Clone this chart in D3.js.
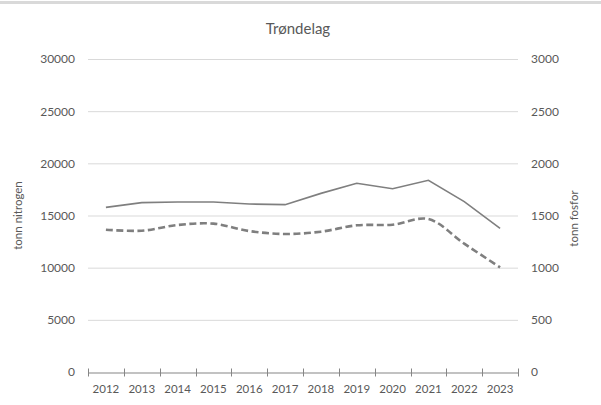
<!DOCTYPE html>
<html><head><meta charset="utf-8">
<script src="https://cdn.jsdelivr.net/npm/d3@7"></script>
<style>body{margin:0;background:#fff;} text{font-family:Lato, "Open Sans", sans-serif;}</style>
</head><body>
<svg id="c" width="601" height="405"></svg>
<script>
const years = ["2012","2013","2014","2015","2016","2017","2018","2019","2020","2021","2022","2023"];
const nitrogen = [15780, 16230, 16290, 16290, 16100, 16040, 17120, 18090, 17570, 18370, 16330, 13770];
const fosfor = [1364, 1354, 1409, 1422, 1351, 1323, 1345, 1406, 1412, 1466, 1230, 1003];
const leftTicks = [0, 5000, 10000, 15000, 20000, 25000, 30000];
const rightTicks = [0, 500, 1000, 1500, 2000, 2500, 3000];
const title = "Trøndelag";
const leftTitle = "tonn nitrogen";
const rightTitle = "tonn fosfor";

const svg = d3.select("#c");
const L = 88, R = 518, T = 59, B = 372;
const gray = "#595959";

svg.append("line").attr("x1",0).attr("x2",601).attr("y1",2.5).attr("y2",2.5)
  .attr("stroke","#d9d9d9").attr("stroke-width",3);

const x = d3.scaleBand().domain(years).range([L, R]).padding(0);
const yL = d3.scaleLinear().domain([0, 30000]).range([B, T]);
const yR = d3.scaleLinear().domain([0, 3000]).range([B, T]);

// gridlines
svg.append("g").selectAll("line").data(leftTicks.filter(d=>d>0)).join("line")
  .attr("x1",L).attr("x2",R).attr("y1",d=>yL(d)+0.5).attr("y2",d=>yL(d)+0.5)
  .attr("stroke","#d9d9d9").attr("stroke-width",1);

// left labels
const gl = svg.append("g").attr("transform",`translate(${L},0)`)
  .call(d3.axisLeft(yL).tickValues(leftTicks).tickSize(0).tickPadding(13).tickFormat(d3.format("d")));
gl.select(".domain").remove();
gl.selectAll("text").attr("fill",gray).style("font-size","12px").style("font-family","Lato");

const gr = svg.append("g").attr("transform",`translate(${R},0)`)
  .call(d3.axisRight(yR).tickValues(rightTicks).tickSize(0).tickPadding(13).tickFormat(d3.format("d")));
gr.select(".domain").remove();
gr.selectAll("text").attr("fill",gray).style("font-size","12px").style("font-family","Lato");

// x axis
const gx = svg.append("g").attr("transform",`translate(0,${B+0.5})`)
  .call(d3.axisBottom(x).tickSize(0).tickPadding(12));
gx.select(".domain").attr("stroke","#868686").attr("stroke-width",1.2);
gx.selectAll("text").attr("fill",gray).style("font-size","11.5px").style("font-family","Lato");
const tickPos = years.map(d=>x(d)).concat([R]);
svg.append("g").selectAll("line").data(tickPos).join("line")
  .attr("x1",d=>Math.round(d)+0.5).attr("x2",d=>Math.round(d)+0.5)
  .attr("y1",B-3.5).attr("y2",B+4.5).attr("stroke","#868686").attr("stroke-width",1);

const cx = d => x(d) + x.bandwidth()/2;

svg.append("path").datum(nitrogen)
  .attr("d", d3.line().x((d,i)=>cx(years[i])).y(d=>yL(d)))
  .attr("fill","none").attr("stroke","#7f7f7f").attr("stroke-width",1.6);

svg.append("path").datum(fosfor)
  .attr("d", d3.line().x((d,i)=>cx(years[i])).y(d=>yR(d)).curve(d3.curveCatmullRom.alpha(0.5)))
  .attr("fill","none").attr("stroke","#7f7f7f").attr("stroke-width",2.6)
  .attr("stroke-dasharray","7,3.5");

svg.append("text").attr("x",298).attr("y",34).attr("text-anchor","middle")
  .attr("fill",gray).style("font-size","15px").text(title);

svg.append("text").attr("transform",`translate(22,${(T+B)/2}) rotate(-90)`)
  .attr("text-anchor","middle").attr("fill",gray).style("font-size","11.5px").text(leftTitle);
svg.append("text").attr("transform",`translate(578,${(T+B)/2+3}) rotate(-90)`)
  .attr("text-anchor","middle").attr("fill",gray).style("font-size","11.5px").text(rightTitle);
</script>
</body></html>
